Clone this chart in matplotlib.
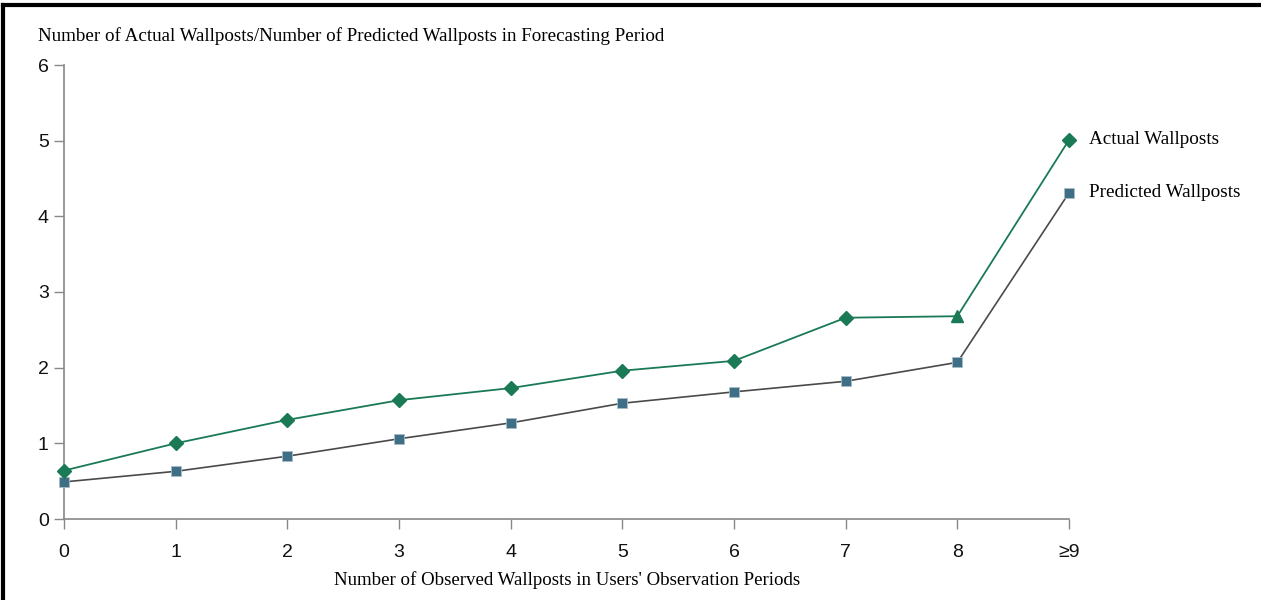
import numpy as np
import matplotlib
matplotlib.use("Agg")
import matplotlib.pyplot as plt
from matplotlib.lines import Line2D

categories = ["0", "1", "2", "3", "4", "5", "6", "7", "8", "\u22659"]
actual = [0.64, 1.00, 1.31, 1.57, 1.73, 1.96, 2.09, 2.66, 2.68, 5.01]
predicted = [0.49, 0.63, 0.83, 1.06, 1.27, 1.53, 1.68, 1.82, 2.07, 4.31]
actual_markers = ["D"] * 8 + ["^", "D"]

green = "#1a7a55"
blue = "#3f6f87"
serif = ["Liberation Serif", "DejaVu Serif"]
sans = ["Liberation Sans", "DejaVu Sans"]

fig = plt.figure(figsize=(12.61, 6.0), dpi=100)
ax = fig.add_axes([64 / 1261, 81 / 600, (1069 - 64) / 1261, (519 - 65) / 600])

x = np.arange(len(categories))
ax.plot(x, predicted, color="#4a4a4a", lw=1.2, zorder=2)
ax.plot(x, predicted, ls="none", marker="s", ms=6.5, mfc=blue, mec="#a8bcc6",
        mew=0.6, zorder=3, clip_on=False)
ax.plot(x, actual, color=green, lw=1.3, zorder=2)
for xi, yi, m in zip(x, actual, actual_markers):
    ax.plot(xi, yi, ls="none", marker=m, ms=7.5 if m == "D" else 8,
            color=green, zorder=4, clip_on=False)

ax.set_xlim(0, 9)
ax.set_ylim(0, 6)
ax.set_xticks(x)
ax.set_xticklabels(categories)
ax.set_yticks(range(7))
for lab in ax.get_xticklabels() + ax.get_yticklabels():
    lab.set_family(sans)
    lab.set_fontsize(14)
    lab.set_color("#111111")
ax.tick_params(axis="x", direction="out", length=7, width=1, color="#888888", pad=11)
ax.tick_params(axis="y", direction="out", length=7, width=1, color="#888888", pad=4)
for s in ["top", "right"]:
    ax.spines[s].set_visible(False)
for s in ["left", "bottom"]:
    ax.spines[s].set_color("#888888")
    ax.spines[s].set_linewidth(1.2)
ax.patch.set_alpha(0)

ax.text(1.02, actual[-1], "Actual Wallposts", transform=ax.get_yaxis_transform(),
        family=serif, fontsize=13.8, va="center", ha="left", clip_on=False)
ax.text(1.02, predicted[-1], "Predicted Wallposts", transform=ax.get_yaxis_transform(),
        family=serif, fontsize=13.8, va="center", ha="left", clip_on=False)

fig.text(38 / 1261, 1 - 36 / 600,
         "Number of Actual Wallposts/Number of Predicted Wallposts in Forecasting Period",
         family=serif, fontsize=13.7, va="center", ha="left")
fig.text(567 / 1261, 1 - 580 / 600,
         "Number of Observed Wallposts in Users' Observation Periods",
         family=serif, fontsize=13.6, va="center", ha="center")

# page frame (top and left edges)
fig.add_artist(Line2D([3 / 1261, 1], [1 - 5 / 600, 1 - 5 / 600], color="black", lw=3,
                      transform=fig.transFigure))
fig.add_artist(Line2D([3 / 1261, 3 / 1261], [0, 1 - 5 / 600], color="black", lw=3,
                      transform=fig.transFigure))

fig.savefig("out.png", dpi=100, facecolor="white")
